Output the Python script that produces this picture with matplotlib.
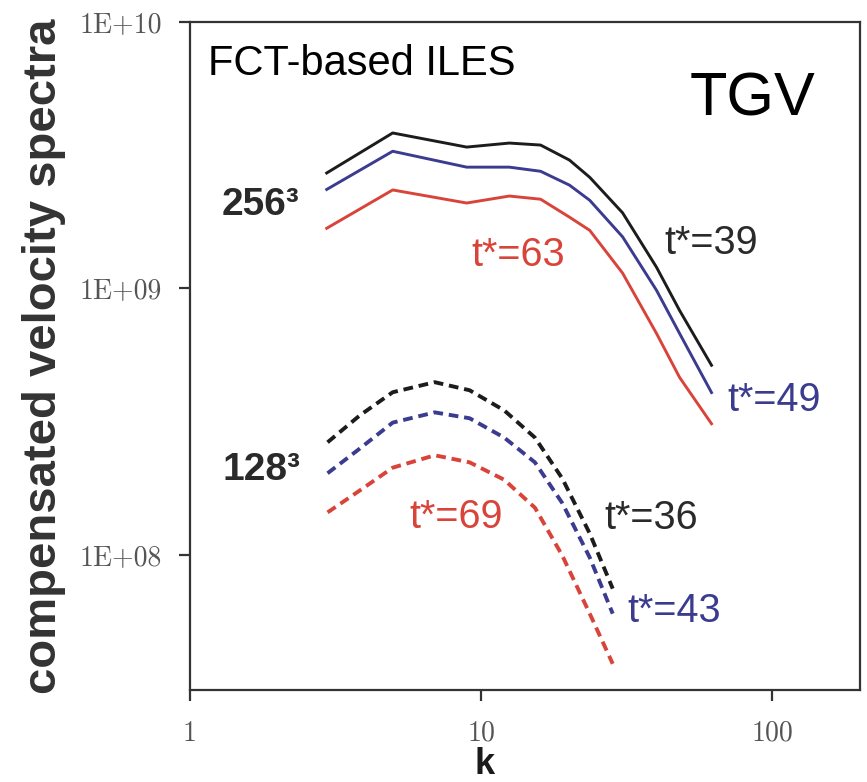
import matplotlib
matplotlib.use("Agg")
import matplotlib.pyplot as plt
from matplotlib import font_manager

# Compensated velocity spectra, 256^3 runs (solid)
k_256 = [2.95, 4.97, 8.92, 12.5, 16.0, 20.1, 23.6, 30.6, 40.0, 48.0, 61.8]
E_256_t39 = [2.71e9, 3.83e9, 3.39e9, 3.51e9, 3.45e9, 3.03e9, 2.61e9, 1.92e9, 1.20e9, 8.26e8, 5.14e8]
E_256_t49 = [2.35e9, 3.27e9, 2.85e9, 2.85e9, 2.75e9, 2.44e9, 2.14e9, 1.56e9, 9.83e8, 6.77e8, 4.06e8]
E_256_t63 = [1.68e9, 2.34e9, 2.09e9, 2.22e9, 2.16e9, 1.85e9, 1.65e9, 1.14e9, 6.77e8, 4.63e8, 3.10e8]

# 128^3 runs (dashed)
k_128 = [2.97, 3.83, 4.97, 6.93, 9.13, 12.0, 15.3, 19.0, 23.6, 28.3]
E_128_t36 = [2.64e8, 3.33e8, 4.07e8, 4.44e8, 4.14e8, 3.48e8, 2.75e8, 1.93e8, 1.20e8, 7.45e7]
E_128_t43 = [2.02e8, 2.50e8, 3.13e8, 3.42e8, 3.25e8, 2.75e8, 2.22e8, 1.56e8, 9.75e7, 6.00e7]
E_128_t69 = [1.44e8, 1.74e8, 2.12e8, 2.36e8, 2.22e8, 1.91e8, 1.50e8, 9.91e7, 6.00e7, 3.89e7]

x_ticks = [1, 10, 100]
x_tick_labels = ["1", "10", "100"]
y_ticks = [1e8, 1e9, 1e10]
y_tick_labels = ["1E+08", "1E+09", "1E+10"]

BLACK = "#1c1c1c"
BLUE = "#3b3b8f"
RED = "#d8443a"

names = {f.name for f in font_manager.fontManager.ttflist}
narrow = "Liberation Sans Narrow" if "Liberation Sans Narrow" in names else "Liberation Sans"

fig = plt.figure(figsize=(8.67, 7.82), dpi=100)
ax = fig.add_axes([0.219, 0.1176, 0.773, 0.8543])
ax.set_xscale("log")
ax.set_yscale("log")
ax.set_xlim(1, 200)
ax.set_ylim(3.1e7, 1e10)

solid = dict(lw=2.1, solid_joinstyle="round")
ax.plot(k_256, E_256_t39, color=BLACK, **solid)
ax.plot(k_256, E_256_t49, color=BLUE, **solid)
ax.plot(k_256, E_256_t63, color=RED, **solid)

dash = dict(lw=2.8, dashes=(2.5, 1.5))
ax.plot(k_128, E_128_t36, color=BLACK, **dash)
ax.plot(k_128, E_128_t43, color=BLUE, **dash)
ax.plot(k_128, E_128_t69, color=RED, **dash)

for s in ax.spines.values():
    s.set_linewidth(1.6)
    s.set_color("#333333")

ax.set_xticks(x_ticks)
ax.set_xticklabels(x_tick_labels)
ax.set_yticks(y_ticks)
ax.set_yticklabels(y_tick_labels)
ax.minorticks_off()
ax.tick_params(axis="both", direction="out", length=8, width=1.6, color="#333333",
               labelcolor="#555555")
ax.tick_params(axis="x", pad=14)
ax.tick_params(axis="y", pad=12)
for lab in ax.get_xticklabels() + ax.get_yticklabels():
    lab.set_fontfamily("cmr10")
    lab.set_fontsize(20)

ax.set_ylabel("compensated velocity spectra", fontsize=34, fontweight="bold",
              family="Liberation Sans", color="#333333")
ax.yaxis.set_label_coords(-0.185, 0.5)
ax.set_xlabel("k", fontsize=26, fontweight="bold", family="Liberation Sans",
              color="#1a1a1a")
ax.xaxis.label.set_verticalalignment("baseline")
ax.xaxis.set_label_coords(0.44, -0.1257)

ax.text(0.027, 0.937, "FCT-based ILES", transform=ax.transAxes, fontsize=30,
        family="Liberation Sans", color="black", ha="left", va="center")
ax.text(0.839, 0.883, "TGV", transform=ax.transAxes, fontsize=44,
        family="Liberation Sans", color="black", ha="center", va="center")

ax.text(1.29, 2.05e9, "256³", fontsize=28, fontweight="bold", family=narrow,
        color="#2a2a2a", ha="left", va="center")
ax.text(1.29, 2.07e8, "128³", fontsize=28, fontweight="bold", family=narrow,
        color="#2a2a2a", ha="left", va="center")

lab_kw = dict(fontsize=28.5, family="Liberation Sans", ha="left", va="center")
ax.text(9.27, 1.33e9, "t*=63", color=RED, **lab_kw)
ax.text(42.6, 1.48e9, "t*=39", color="#2a2a2a", **lab_kw)
ax.text(70.1, 3.79e8, "t*=49", color=BLUE, **lab_kw)
ax.text(5.69, 1.38e8, "t*=69", color=RED, **lab_kw)
ax.text(26.5, 1.37e8, "t*=36", color="#2a2a2a", **lab_kw)
ax.text(31.8, 6.16e7, "t*=43", color=BLUE, **lab_kw)

fig.savefig("out.png", dpi=100, facecolor="white")
